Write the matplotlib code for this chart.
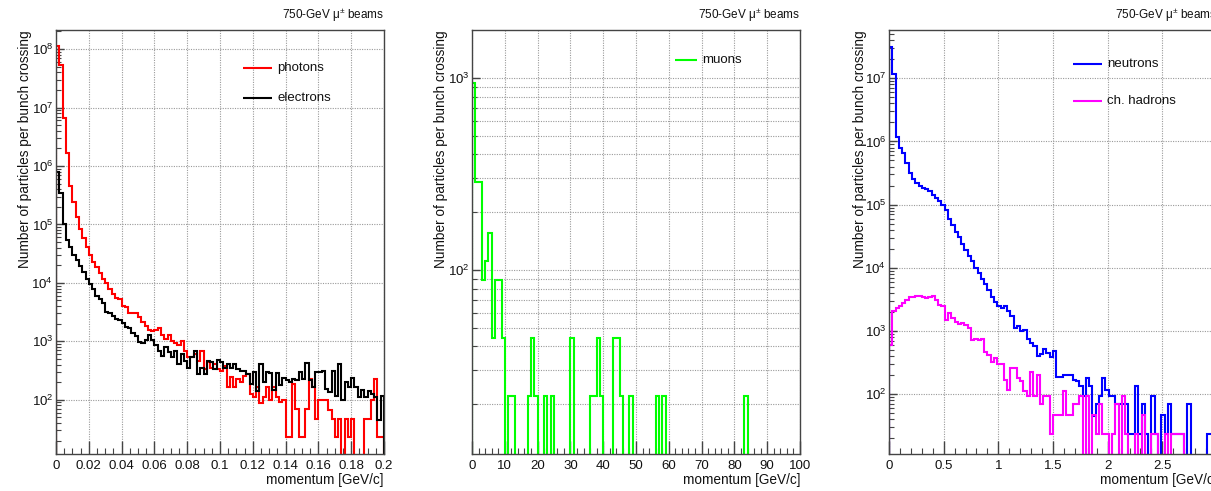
import numpy as np
import matplotlib
matplotlib.use("Agg")
import matplotlib.pyplot as plt
from matplotlib.ticker import MultipleLocator, LogLocator, NullFormatter, FuncFormatter

plt.rcParams['font.family'] = ['Liberation Sans', 'DejaVu Sans']
plt.rcParams['mathtext.fontset'] = 'custom'
plt.rcParams['mathtext.rm'] = 'Liberation Sans'
plt.rcParams['mathtext.it'] = 'Liberation Sans:italic'
plt.rcParams['mathtext.bf'] = 'Liberation Sans:bold'

# ---------------- data (100 bins per histogram) ----------------
em_edges = np.linspace(0.0, 0.2, 101)     # GeV/c
mu_edges = np.linspace(0.0, 100.0, 101)   # GeV/c
had_edges = np.linspace(0.0, 3.0, 101)    # GeV/c

# log10(particles per bunch crossing); None = empty bin
photons_log10 = [
    8.06, 7.73, 6.82, 6.23, 5.66, 5.38, 5.13, 4.92, 4.77, 4.61,
    4.47, 4.35, 4.27, 4.17, 4.07, 3.99, 3.90, 3.81, 3.74, 3.73,
    3.61, 3.58, 3.49, 3.49, 3.49, 3.41, 3.33, 3.26, 3.20, 3.17,
    3.20, 3.22, 3.10, 3.04, 3.11, 3.01, 2.97, 2.93, 3.01, 2.84,
    2.74, 2.74, 2.78, 2.67, 2.84, 2.53, 2.64, 2.54, 2.61, 2.53,
    2.50, 2.58, 2.21, 2.39, 2.21, 2.35, 2.30, 2.41, 2.44, 2.10,
    2.04, 2.21, 1.95, 2.04, 2.22, 1.99, 2.22, 2.05, 1.97, 1.99,
    1.37, 1.37, 2.27, 1.85, 1.37, 1.37, 1.85, 2.36, 2.22, 1.67,
    1.99, 1.99, 1.99, 1.82, 1.67, 1.37, 1.67, None, 1.67, 1.37,
    1.67, None, None, None, 1.67, 1.67, 1.99, 2.36, 1.37, 1.37,
]
electrons_log10 = [
    5.90, 5.53, 5.00, 4.73, 4.62, 4.47, 4.39, 4.29, 4.19, 4.07,
    3.98, 3.90, 3.78, 3.73, 3.65, 3.50, 3.49, 3.43, 3.38, 3.36,
    3.32, 3.25, 3.23, 3.14, 3.09, 2.99, 2.97, 3.02, 3.11, 3.02,
    2.93, 2.84, 2.75, 2.90, 2.81, 2.73, 2.84, 2.61, 2.78, 2.67,
    2.55, 2.73, 2.84, 2.44, 2.55, 2.44, 2.67, 2.64, 2.53, 2.68,
    2.64, 2.55, 2.61, 2.55, 2.61, 2.53, 2.50, 2.50, 2.44, 2.27,
    2.47, 2.15, 2.61, 2.30, 2.47, 2.46, 2.16, 2.45, 2.25, 2.38,
    2.34, 2.30, 2.36, 2.33, 2.47, 2.36, 2.63, 2.33, 2.22, 2.47,
    2.47, 2.50, 2.19, 2.13, 2.50, 2.07, 2.62, 1.99, 2.30, 2.21,
    2.38, 2.21, 2.05, 2.16, 2.05, 2.15, 2.10, 2.05, 1.66, 2.06,
]
muons = [
    940, 288, 288, 89, 111, 155, 44, 89, 89, 44,
    0, 22, 22, 0, 0, 0, 0, 22, 44, 22,
    0, 0, 22, 0, 22, 0, 0, 0, 0, 0,
    44, 0, 0, 0, 0, 0, 22, 22, 44, 22,
    0, 0, 0, 44, 44, 22, 0, 0, 22, 0,
    0, 0, 0, 0, 0, 0, 22, 0, 22, 0,
    0, 0, 0, 0, 0, 0, 0, 0, 0, 0,
    0, 0, 0, 0, 0, 0, 0, 0, 0, 0,
    0, 0, 0, 22, 0, 0, 0, 0, 0, 0,
    0, 0, 0, 0, 0, 0, 0, 0, 0, 0,
]
neutrons_log10 = [
    7.49, 7.06, 6.07, 5.89, 5.81, 5.66, 5.50, 5.41, 5.34, 5.30,
    5.27, 5.24, 5.21, 5.15, 5.11, 5.06, 4.99, 4.92, 4.78, 4.68,
    4.57, 4.48, 4.38, 4.28, 4.18, 4.10, 4.00, 3.91, 3.83, 3.74,
    3.65, 3.54, 3.46, 3.40, 3.37, 3.39, 3.31, 3.23, 3.05, 3.08,
    3.00, 3.01, 2.88, 2.81, 2.77, 2.61, 2.64, 2.72, 2.65, 2.59,
    2.68, 2.27, 2.27, 2.31, 2.31, 2.31, 2.22, 2.21, 2.13, 1.97,
    2.26, 2.13, 1.66, 1.85, 1.97, 2.26, 2.07, 1.97, 1.97, 1.84,
    1.84, 1.84, 1.84, 1.37, 1.37, 2.13, 1.37, 1.84, 1.37, None,
    1.97, 1.37, None, 1.67, 1.37, 1.84, 1.37, 1.37, 1.37, 1.37,
    None, 1.84, None, None, None, None, None, 1.37, 1.37, 1.37,
]
hadrons_log10 = [
    2.78, 3.32, 3.36, 3.40, 3.44, 3.49, 3.54, 3.53, 3.56, 3.56,
    3.54, 3.52, 3.53, 3.55, 3.49, 3.41, 3.40, 3.17, 3.29, 3.20,
    3.15, 3.11, 3.12, 3.10, 3.04, 2.86, 2.88, 2.86, 2.87, 2.67,
    2.62, 2.51, 2.58, 2.48, 2.47, 2.22, 2.07, 2.41, 2.42, 2.26,
    2.21, 2.05, 1.97, 2.35, 1.97, 2.31, 1.84, 1.97, 1.97, 1.37,
    1.67, 1.67, 1.67, 2.05, 1.67, 1.67, 1.84, 1.84, 1.97, None,
    1.97, None, 1.67, 1.37, 1.84, 1.37, 1.37, None, 1.37, 1.84,
    None, 1.97, 1.37, None, None, 1.37, None, 1.67, None, None,
    1.37, 1.37, None, None, 1.37, None, 1.37, 1.37, 1.37, 1.37,
    None, None, None, None, None, None, None, None, None, None,
]

title_text = "750-GeV μ$^{\\pm}$ beams"
ylabel_text = "Number of particles per bunch crossing"
xlabel_text = "momentum [GeV/c]"


def to_counts(logvals):
    a = np.array([np.nan if v is None else v for v in logvals], dtype=float)
    return np.where(np.isnan(a), 0.0, 10.0 ** a)


photons = to_counts(photons_log10)
electrons = to_counts(electrons_log10)
neutrons = to_counts(neutrons_log10)
hadrons = to_counts(hadrons_log10)
muons = np.array(muons, dtype=float)

# ---------------- figure ----------------
W, H = 1211, 491
fig = plt.figure(figsize=(W / 100, H / 100), dpi=100)
fig.patch.set_facecolor("white")


def px_axes(x0, x1, ytop, ybot):
    return fig.add_axes([x0 / W, 1 - ybot / H, (x1 - x0) / W, (ybot - ytop) / H])


def gfmt(v, pos):
    return "%g" % v


def style(ax, xlim, ylim, xmaj, xmin, minor_grid=False, ylab_x=-0.067):
    ax.set_yscale("log")
    ax.set_xlim(*xlim)
    ax.set_ylim(*ylim)
    ax.xaxis.set_major_locator(MultipleLocator(xmaj))
    ax.xaxis.set_minor_locator(MultipleLocator(xmin))
    ax.xaxis.set_major_formatter(FuncFormatter(gfmt))
    ax.yaxis.set_major_locator(LogLocator(base=10, numticks=30))
    ax.yaxis.set_minor_locator(LogLocator(base=10, subs=np.arange(2, 10), numticks=30))
    ax.yaxis.set_minor_formatter(NullFormatter())
    for sp in ax.spines.values():
        sp.set_color("#444444")
        sp.set_linewidth(1.0)
    ax.tick_params(which="both", direction="in", top=False, right=False,
                   color="#444444", labelsize=9.5, labelcolor="#111111")
    ax.tick_params(axis="x", which="major", length=9.5, width=1.0, pad=4)
    ax.tick_params(axis="x", which="minor", length=4.5, width=0.8)
    ax.tick_params(axis="y", which="major", length=6, width=1.0, pad=2)
    ax.tick_params(axis="y", which="minor", length=3.5, width=0.8)
    gkw = dict(linestyle=(0, (1, 1.2)), color="#9a9a9a", linewidth=0.8)
    ax.grid(True, which="major", **gkw)
    if minor_grid:
        ax.grid(True, which="minor", axis="y", **gkw)
    ax.set_axisbelow(True)
    ax.set_xlabel(xlabel_text, loc="right", fontsize=9.8, color="#111111", labelpad=1)
    ax.set_ylabel(ylabel_text, loc="top", fontsize=9.8, color="#111111")
    ax.yaxis.set_label_coords(ylab_x, 1.0)
    ax.text(1.0, 1.014, title_text, transform=ax.transAxes, ha="right",
            va="bottom", fontsize=8.5, color="#111111")


def hist(ax, edges, counts, color, ylim):
    floor = ylim[0] * 0.1
    vals = np.where(counts > 0, counts, floor)
    ax.stairs(vals, edges, baseline=floor, color=color, linewidth=1.5, fill=False)


def legend(ax, x0, x1, xt, entries):
    for (y, label, color) in entries:
        ax.plot([x0, x1], [y, y], transform=ax.transAxes, color=color, lw=1.5,
                solid_capstyle="butt")
        ax.text(xt, y, label, transform=ax.transAxes, ha="left", va="center",
                fontsize=9.5, color="#111111")


# Panel 1: photons & electrons
ax1 = px_axes(56, 384, 30, 454)
ylim1 = (11.8, 2.12e8)
hist(ax1, em_edges, photons, "#ff0000", ylim1)
hist(ax1, em_edges, electrons, "#000000", ylim1)
style(ax1, (0, 0.2), ylim1, 0.02, 0.005, ylab_x=-0.072)
legend(ax1, 0.570, 0.659, 0.674, [(0.910, "photons", "#ff0000"),
                                   (0.840, "electrons", "#000000")])

# Panel 2: muons
ax2 = px_axes(472, 800, 30, 454)
ylim2 = (11.0, 1778)
hist(ax2, mu_edges, muons, "#00ff00", ylim2)
style(ax2, (0, 100), ylim2, 10, 2, minor_grid=True, ylab_x=-0.073)
legend(ax2, 0.619, 0.686, 0.701, [(0.929, "muons", "#00ff00")])

# Panel 3: neutrons & charged hadrons (right part falls outside the image)
ax3 = px_axes(889, 1217, 30, 454)
ylim3 = (11.3, 5.8e7)
hist(ax3, had_edges, neutrons, "#0000ff", ylim3)
hist(ax3, had_edges, hadrons, "#ff00ff", ylim3)
style(ax3, (0, 3), ylim3, 0.5, 0.1, ylab_x=-0.068)
legend(ax3, 0.561, 0.649, 0.665, [(0.920, "neutrons", "#0000ff"),
                                   (0.833, "ch. hadrons", "#ff00ff")])

fig.savefig("out.png", dpi=100, facecolor="white")
